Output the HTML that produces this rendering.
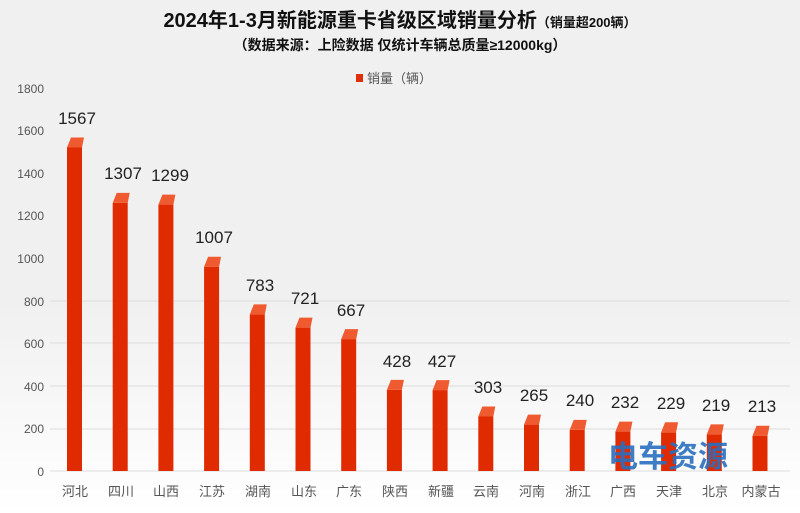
<!DOCTYPE html>
<html><head><meta charset="utf-8"><style>
body{margin:0;background:#f0f0f0;}
svg{display:block}
</style></head><body>
<svg width="800" height="513" xmlns="http://www.w3.org/2000/svg" font-family="'Liberation Sans','Noto Sans CJK SC',sans-serif">
<defs>
<linearGradient id="floor" x1="0" y1="0" x2="0" y2="1"><stop offset="0" stop-color="#f0f0f0"/><stop offset="1" stop-color="#ffffff"/></linearGradient>
</defs>
<rect width="800" height="513" fill="#f0f0f0"/>
<rect x="0" y="300" width="800" height="213" fill="url(#floor)"/>
<g stroke="#dcdcdc" stroke-width="1">
<line x1="50" y1="471" x2="790" y2="471"/>
<line x1="50" y1="429" x2="790" y2="429"/>
<line x1="50" y1="386" x2="790" y2="386"/>
<line x1="50" y1="343" x2="790" y2="343"/>
<line x1="50" y1="301" x2="790" y2="301"/>
</g>
<text x="400" y="27" text-anchor="middle" font-size="20" font-weight="bold" fill="#111">2024年1-3月新能源重卡省级区域销量分析<tspan font-size="13">（销量超200辆）</tspan></text>
<text x="400" y="50" text-anchor="middle" font-size="14" font-weight="bold" fill="#111">（数据来源：上险数据  仅统计车辆总质量≥12000kg）</text>
<rect x="356" y="74" width="7" height="8" fill="#e0300a"/>
<text x="367" y="83" font-size="13" fill="#555">销量（辆）</text>
<g font-size="12" fill="#555" text-anchor="end">
<text x="44" y="93">1800</text><text x="44" y="135">1600</text><text x="44" y="178">1400</text><text x="44" y="220">1200</text><text x="44" y="263">1000</text><text x="44" y="306">800</text><text x="44" y="348">600</text><text x="44" y="391">400</text><text x="44" y="433">200</text><text x="44" y="476">0</text>
</g>
<g fill="#e02a00">
<g transform="translate(75,137.5)"><rect x="-8" y="10" width="15" height="323.5"/><polygon points="-8,10 -4,0 9,0 7,10" fill="#f05a30"/></g>
<g transform="translate(120.7,192.9)"><rect x="-8" y="10" width="15" height="268.1"/><polygon points="-8,10 -4,0 9,0 7,10" fill="#f05a30"/></g>
<g transform="translate(166.4,194.6)"><rect x="-8" y="10" width="15" height="266.4"/><polygon points="-8,10 -4,0 9,0 7,10" fill="#f05a30"/></g>
<g transform="translate(212.1,256.7)"><rect x="-8" y="10" width="15" height="204.3"/><polygon points="-8,10 -4,0 9,0 7,10" fill="#f05a30"/></g>
<g transform="translate(257.8,304.4)"><rect x="-8" y="10" width="15" height="156.6"/><polygon points="-8,10 -4,0 9,0 7,10" fill="#f05a30"/></g>
<g transform="translate(303.5,317.6)"><rect x="-8" y="10" width="15" height="143.4"/><polygon points="-8,10 -4,0 9,0 7,10" fill="#f05a30"/></g>
<g transform="translate(349.2,329.1)"><rect x="-8" y="10" width="15" height="131.9"/><polygon points="-8,10 -4,0 9,0 7,10" fill="#f05a30"/></g>
<g transform="translate(394.9,379.9)"><rect x="-8" y="10" width="15" height="81.1"/><polygon points="-8,10 -4,0 9,0 7,10" fill="#f05a30"/></g>
<g transform="translate(440.6,380.1)"><rect x="-8" y="10" width="15" height="80.9"/><polygon points="-8,10 -4,0 9,0 7,10" fill="#f05a30"/></g>
<g transform="translate(486.3,406.5)"><rect x="-8" y="10" width="15" height="54.5"/><polygon points="-8,10 -4,0 9,0 7,10" fill="#f05a30"/></g>
<g transform="translate(532,414.6)"><rect x="-8" y="10" width="15" height="46.4"/><polygon points="-8,10 -4,0 9,0 7,10" fill="#f05a30"/></g>
<g transform="translate(577.7,419.9)"><rect x="-8" y="10" width="15" height="41.1"/><polygon points="-8,10 -4,0 9,0 7,10" fill="#f05a30"/></g>
<g transform="translate(623.4,421.6)"><rect x="-8" y="10" width="15" height="39.4"/><polygon points="-8,10 -4,0 9,0 7,10" fill="#f05a30"/></g>
<g transform="translate(669.1,422.3)"><rect x="-8" y="10" width="15" height="38.7"/><polygon points="-8,10 -4,0 9,0 7,10" fill="#f05a30"/></g>
<g transform="translate(714.8,424.4)"><rect x="-8" y="10" width="15" height="36.6"/><polygon points="-8,10 -4,0 9,0 7,10" fill="#f05a30"/></g>
<g transform="translate(760.5,425.7)"><rect x="-8" y="10" width="15" height="35.3"/><polygon points="-8,10 -4,0 9,0 7,10" fill="#f05a30"/></g>
</g>
<g font-size="17" fill="#222" text-anchor="middle">
<text x="77" y="124">1567</text>
<text x="123" y="179">1307</text>
<text x="170" y="181">1299</text>
<text x="214" y="243">1007</text>
<text x="260" y="291">783</text>
<text x="305" y="304">721</text>
<text x="351" y="316">667</text>
<text x="397" y="367">428</text>
<text x="442" y="367">427</text>
<text x="488" y="393">303</text>
<text x="534" y="401">265</text>
<text x="580" y="406">240</text>
<text x="625" y="408">232</text>
<text x="671" y="409">229</text>
<text x="716" y="411">219</text>
<text x="762" y="412">213</text>
</g>
<g font-size="13" fill="#555" text-anchor="middle">
<text x="75" y="496">河北</text><text x="121" y="496">四川</text><text x="166" y="496">山西</text><text x="212" y="496">江苏</text><text x="258" y="496">湖南</text><text x="304" y="496">山东</text><text x="349" y="496">广东</text><text x="395" y="496">陕西</text><text x="441" y="496">新疆</text><text x="486" y="496">云南</text><text x="532" y="496">河南</text><text x="578" y="496">浙江</text><text x="623" y="496">广西</text><text x="669" y="496">天津</text><text x="715" y="496">北京</text><text x="761" y="496">内蒙古</text>
</g>
<text x="668" y="467" font-size="30" font-weight="bold" fill="#2a6fc0" text-anchor="middle" opacity="0.9">电车资源</text>
</svg>
</body></html>
